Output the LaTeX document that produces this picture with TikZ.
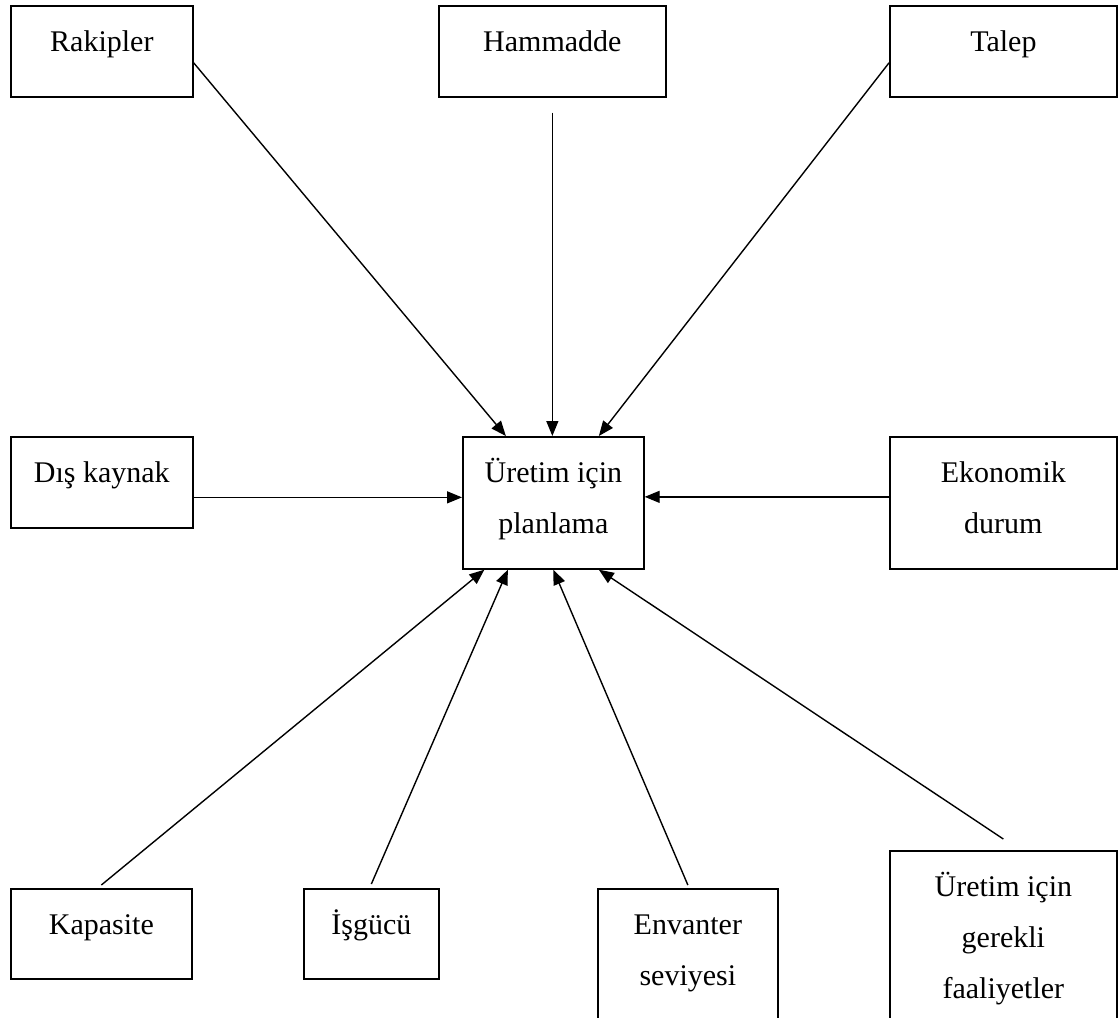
\documentclass[tikz,border=0pt]{standalone}
\usepackage{fontspec}
\setmainfont{Liberation Serif}
\usetikzlibrary{arrows.meta}
\newcommand{\bxt}[3]{\parbox[t][#2][t]{#1}{\centering\rule{0pt}{46pt}#3}}
\tikzset{
  box/.style={draw, line width=1.7pt, inner sep=0pt, anchor=north west, font=\fontsize{30}{51}\selectfont},
  arr/.style={line width=1.4pt, -{Triangle[length=15pt,width=12pt]}}
}
\begin{document}
\begin{tikzpicture}[x=1pt,y=-1pt]
\useasboundingbox (0,0) rectangle (1118,1017);
\fill[white] (0,0) rectangle (1118,1017);
\node[box] (rak) at (10,5)    {\bxt{182pt}{91pt}{Rakipler}};
\node[box] (ham) at (438,5)   {\bxt{227pt}{91pt}{Hammadde}};
\node[box] (tal) at (889,5)   {\bxt{227pt}{91pt}{Talep}};
\node[box] (dis) at (10,436)  {\bxt{182pt}{91pt}{Dış kaynak}};
\node[box] (ctr) at (462,436) {\bxt{181pt}{132pt}{Üretim için\\planlama}};
\node[box] (eko) at (889,436) {\bxt{227pt}{132pt}{Ekonomik\\durum}};
\node[box] (kap) at (10,888)  {\bxt{181pt}{90pt}{Kapasite}};
\node[box] (isg) at (303,888) {\bxt{135pt}{90pt}{İşgücü}};
\node[box] (env) at (597,888) {\bxt{180pt}{160pt}{Envanter\\seviyesi}};
\node[box] (ger) at (889,850) {\bxt{227pt}{200pt}{Üretim için\\gerekli\\faaliyetler}};
% top connectors
\draw[arr] ([yshift=-11.5pt]rak.east) -- ([xshift=-47.5pt]ctr.north);
\draw[arr] ([yshift=-15pt]ham.south) -- (ham.south |- ctr.north);
\draw[arr] ([yshift=-11.5pt]tal.west) -- ([xshift=45.5pt]ctr.north);
% side connectors
\draw[arr] ([yshift=-15pt]dis.east) coordinate (d1) -- (d1 -| ctr.west);
\draw[arr] ([yshift=6pt]eko.west) coordinate (e1) -- (e1 -| ctr.east);
% bottom connectors
\draw[arr] ([yshift=3pt]kap.north) -- ([xshift=-69pt]ctr.south);
\draw[arr] ([yshift=4pt]isg.north) -- ([xshift=-45.5pt]ctr.south);
\draw[arr] ([yshift=3pt]env.north) -- (ctr.south);
\draw[arr] ([yshift=11pt]ger.north) -- ([xshift=45.5pt]ctr.south);
\end{tikzpicture}
\end{document}
